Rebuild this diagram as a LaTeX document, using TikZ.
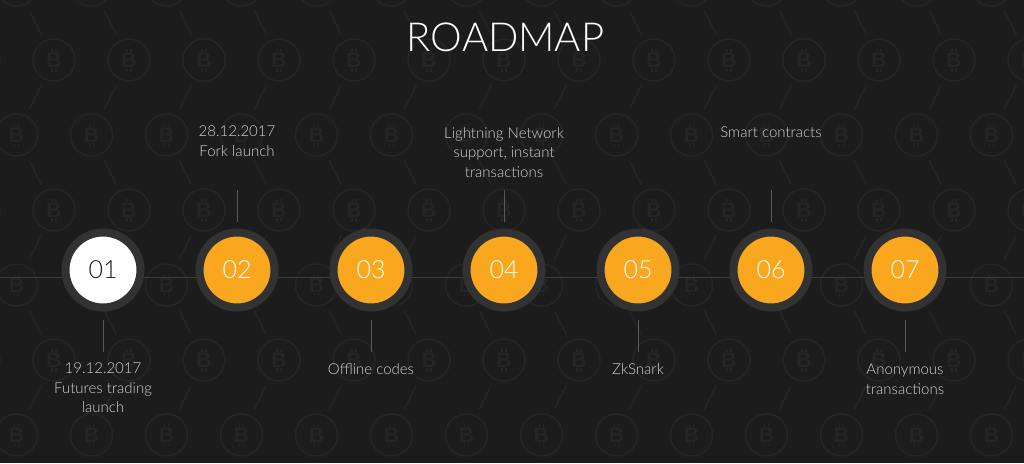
\documentclass[tikz,border=0pt]{standalone}
\usepackage{fontspec}
\setmainfont{Lato Light}
\newfontfamily\coinfont{Liberation Sans}
\usetikzlibrary{calc}
\definecolor{bg}{RGB}{28,28,28}
\definecolor{pat}{RGB}{37,37,37}
\definecolor{ringc}{RGB}{50,50,50}
\definecolor{orng}{RGB}{249,167,30}
\definecolor{lbl}{RGB}{210,210,210}
\definecolor{stemc}{RGB}{88,88,88}
\definecolor{tline}{RGB}{62,62,62}
\begin{document}
\begin{tikzpicture}[x=1pt,y=-1pt,
  milestone/.style={circle, draw=ringc, line width=8pt, fill=orng, minimum size=75pt,
    inner sep=0pt, outer sep=0pt, text=white, font=\fontsize{25}{25}\selectfont},
  firstmile/.style={milestone, fill=white, text=bg},
  lbl/.style={align=center, text=lbl, inner sep=0pt, anchor=north,
    font=\fontsize{15}{19.5}\selectfont},
  stem/.style={draw=stemc, line width=1pt},
  patline/.style={draw=pat, line width=1.5pt},
  coin/.style={text=pat, inner sep=0pt, font=\coinfont\bfseries\fontsize{21}{21}\selectfont}
]
\useasboundingbox[fill=bg] (0,0) rectangle (1024,463);
% background pattern
\begin{scope}
\clip (0,0) rectangle (1024,463);
\foreach \j in {0,...,7}{
  \pgfmathsetmacro{\yy}{-90+75*\j}
  \pgfmathsetmacro{\xo}{isodd(\j) ? 16.5 : 54}
  \pgfmathsetmacro{\dx}{isodd(\j) ? 37.5 : -37.5}
  \foreach \k in {-1,...,14}{
    \pgfmathsetmacro{\xx}{\xo+75*\k}
    \draw[patline] (\xx,\yy) circle (21pt);
    \node[coin] (coin-\j-\k) at (\xx,\yy) {B};
    \draw[patline, line width=1.3pt] (\xx-2,\yy-8) -- (\xx-2,\yy-11.5) (\xx+2,\yy-8) -- (\xx+2,\yy-11.5)
      (\xx-2,\yy+8) -- (\xx-2,\yy+11.5) (\xx+2,\yy+8) -- (\xx+2,\yy+11.5);
    \ifnum\j<7
      \draw[patline] (\xx+0.34*\dx,\yy+0.34*75) -- (\xx+0.66*\dx,\yy+0.66*75);
    \fi
  }
}
\end{scope}
% timeline
\coordinate (tlL) at (0,277);
\coordinate (tlR) at (1024,277);
\draw[draw=tline, line width=1pt] (tlL) -- (tlR);
% title
\node[font=\fontsize{40}{40}\selectfont, text=white, anchor=base, inner sep=0pt] (title) at (505.5,51) {ROADMAP};
% milestones
\node[firstmile] (m1) at (103,270) {01};
\node[milestone] (m2) at (237,270) {02};
\node[milestone] (m3) at (371,270) {03};
\node[milestone] (m4) at (504,270) {04};
\node[milestone] (m5) at (638,270) {05};
\node[milestone] (m6) at (771,270) {06};
\node[milestone] (m7) at (905,270) {07};
% labels
\node[lbl] (l2) at (237,126) {28.12.2017\\Fork launch};
\node[lbl] (l4) at (504,127) {Lightning Network\\support, instant\\transactions};
\node[lbl] (l6) at (771,127) {Smart contracts};
\node[lbl] (l1) at (103,363) {19.12.2017\\Futures trading\\launch};
\node[lbl] (l3) at (371,363) {Offline codes};
\node[lbl] (l5) at (638,363) {ZkSnark};
\node[lbl] (l7) at (905,364) {Anonymous\\transactions};
% stems
\foreach \m in {m2,m4,m6}{
  \draw[stem] ([yshift=10.5pt]\m.north) -- ([yshift=42.5pt]\m.north);
}
\foreach \m in {m1,m3,m5,m7}{
  \draw[stem] ([yshift=-12.5pt]\m.south) -- ([yshift=-44.5pt]\m.south);
}
\end{tikzpicture}
\end{document}
